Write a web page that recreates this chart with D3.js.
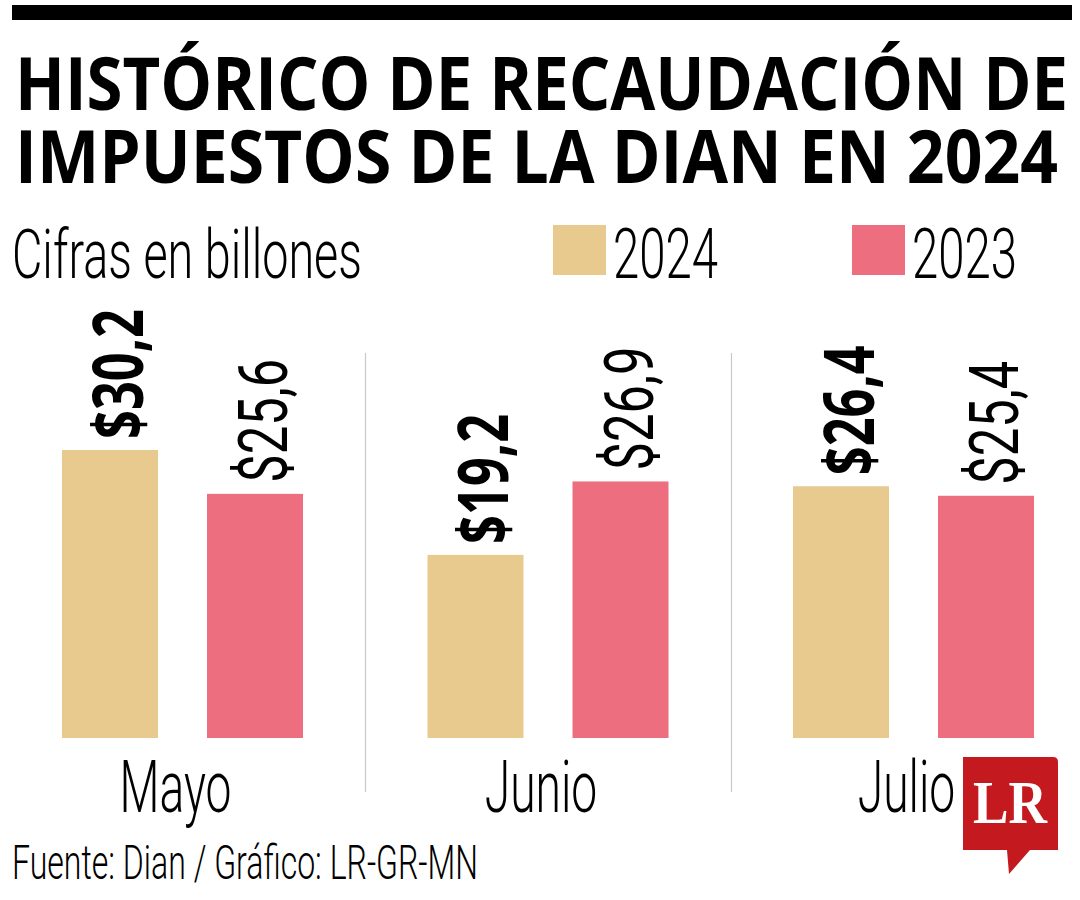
<!DOCTYPE html>
<html><head><meta charset="utf-8">
<script src="https://cdn.jsdelivr.net/npm/d3@7/dist/d3.min.js"></script>
<style>
html,body{margin:0;padding:0;background:#fff;}
svg{display:block;}
</style></head>
<body>
<script>
// ---- data ----
const months = ["Mayo", "Junio", "Julio"];
const series = ["2024", "2023"];
const values2024 = [30.2, 19.2, 26.4];
const values2023 = [25.6, 26.9, 25.4];
const titleLines = ["HISTÓRICO DE RECAUDACIÓN DE", "IMPUESTOS DE LA DIAN EN 2024"];
const subtitle = "Cifras en billones";
const source = "Fuente: Dian / Gráfico: LR-GR-MN";

const colors = {"2024": "#E8CA8F", "2023": "#EC6E7F"};
const BOLD = "'Open Sans', 'DejaVu Sans', sans-serif";
const LIGHT = "Roboto, 'Open Sans', sans-serif";

const W = 1080, H = 900;
const svg = d3.select("body").append("svg").attr("width", W).attr("height", H);

function fit(sel, w) {
  sel.attr("textLength", w).attr("lengthAdjust", "spacingAndGlyphs");
  return sel;
}
function condense(sel, k) {
  sel.each(function () {
    const n = this.getComputedTextLength();
    d3.select(this).attr("textLength", n * k).attr("lengthAdjust", "spacingAndGlyphs");
  });
}

// top rule
svg.append("rect").attr("x", 12).attr("y", 5).attr("width", 1060).attr("height", 15).attr("fill", "#000");

// title
const t1 = svg.append("text").attr("x", 15).attr("y", 110)
  .attr("font-family", BOLD).attr("font-weight", 700).attr("font-size", 74).attr("fill", "#000")
  .text(titleLines[0]);
fit(t1, 1053);
const t2 = svg.append("text").attr("x", 15).attr("y", 183)
  .attr("font-family", BOLD).attr("font-weight", 700).attr("font-size", 74).attr("fill", "#000")
  .text(titleLines[1]);
fit(t2, 1043);

// subtitle
const st = svg.append("text").attr("x", 12).attr("y", 278)
  .attr("font-family", LIGHT).attr("font-weight", 300).attr("font-size", 68).attr("fill", "#000")
  .text(subtitle);
const lightK = 350 / st.node().getComputedTextLength();
fit(st, 350);

// legend
const legendX = {"2024": 553, "2023": 852};
series.forEach(s => {
  svg.append("rect").attr("x", legendX[s]).attr("y", 225).attr("width", 53).attr("height", 50).attr("fill", colors[s]);
  const lt = svg.append("text").attr("x", legendX[s] + 60).attr("y", 278)
    .attr("font-family", LIGHT).attr("font-weight", 300).attr("font-size", 70).attr("fill", "#000")
    .text(s);
  fit(lt, 105);
});

// scales
const x0 = d3.scaleBand().domain(months).range([-0.25, 1096.25]).paddingInner(0.3406).paddingOuter(0.1703);
const x1 = d3.scaleBand().domain(series).range([0, x0.bandwidth()]).paddingInner(0.338).paddingOuter(0);
const y = d3.scaleLinear().domain([0, 30.2]).range([738, 450]);

const rows = months.map((m, i) => ({month: m, vals: [
  {s: "2024", v: values2024[i]},
  {s: "2023", v: values2023[i]}
]}));

// separators
const gap = x0.step() - x0.bandwidth();
months.slice(1).forEach(m => {
  const sx = Math.round(x0(m) - gap / 2) + 0.5;
  svg.append("line").attr("x1", sx).attr("x2", sx).attr("y1", 353).attr("y2", 792)
    .attr("stroke", "#c8c8c8").attr("stroke-width", 1.2);
});

const fmt = v => "$" + d3.format(".1f")(v).replace(".", ",");

const g = svg.selectAll("g.month").data(rows).join("g").attr("class", "month")
  .attr("transform", d => `translate(${x0(d.month)},0)`);

g.selectAll("rect").data(d => d.vals).join("rect")
  .attr("x", d => x1(d.s)).attr("width", x1.bandwidth())
  .attr("y", d => y(d.v)).attr("height", d => y(0) - y(d.v))
  .attr("fill", d => colors[d.s]);

g.selectAll("text.val").data(d => d.vals).join("text").attr("class", "val")
  .attr("transform", d => {
    const cx = x1(d.s) + x1.bandwidth() / 2 + (d.s === "2024" ? 33 : 32);
    return `translate(${cx},${y(d.v) - 11}) rotate(-90)`;
  })
  .attr("font-family", d => d.s === "2024" ? BOLD : LIGHT)
  .attr("font-weight", d => d.s === "2024" ? 700 : 400)
  .attr("font-size", d => d.s === "2024" ? 70 : 68)
  .attr("fill", "#000")
  .text(d => fmt(d.v))
  .attr("textLength", d => d.s === "2024" ? 130 : 124)
  .attr("lengthAdjust", "spacingAndGlyphs");

// month labels
svg.selectAll("text.month").data(months).join("text").attr("class", "month")
  .attr("x", m => x0(m) + x0.bandwidth() / 2 - 7).attr("y", 812)
  .attr("text-anchor", "middle")
  .attr("font-family", LIGHT).attr("font-weight", 300).attr("font-size", 73).attr("fill", "#000")
  .text(m => m)
  .each(function () { condense(d3.select(this), lightK * 0.92); });

// source
const src = svg.append("text").attr("x", 12).attr("y", 879)
  .attr("font-family", LIGHT).attr("font-weight", 300).attr("font-size", 48).attr("fill", "#000")
  .text(source);
fit(src, 466);

// LR logo
const logo = svg.append("g");
logo.append("path")
  .attr("d", "M963,757 L1053,757 Q1058,757 1058,762 L1058,850 L1030,850 L1009,874 L1007,850 L963,850 Z")
  .attr("fill", "#C41A1F");
const lr = logo.append("text").attr("x", 1010).attr("y", 823).attr("text-anchor", "middle")
  .attr("font-family", "'Liberation Serif', 'DejaVu Serif', serif").attr("font-weight", 700)
  .attr("font-size", 62).attr("fill", "#fff").text("LR");
fit(lr, 74);
</script>
</body></html>
